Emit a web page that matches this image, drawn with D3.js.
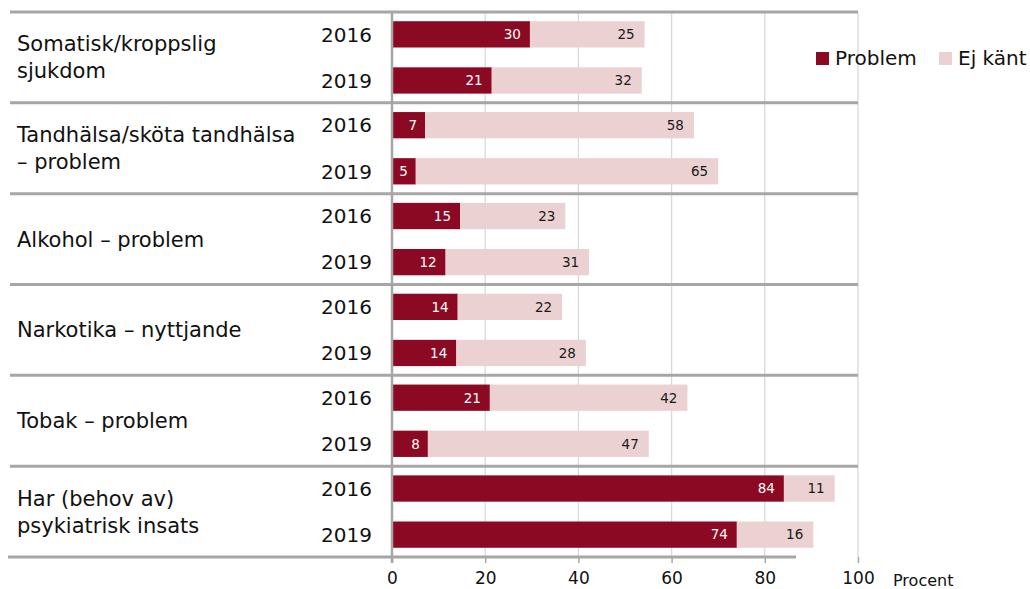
<!DOCTYPE html>
<html><head><meta charset="utf-8">
<script src="https://cdn.jsdelivr.net/npm/d3@7"></script>
<style>body{margin:0;background:#fff}svg{display:block}text{font-family:"DejaVu Sans",Verdana,sans-serif}</style>
</head><body><svg id="c" width="1030" height="589"></svg>
<script>
const categories = [["Somatisk/kroppslig","sjukdom"],["Tandhälsa/sköta tandhälsa","– problem"],["Alkohol – problem"],["Narkotika – nyttjande"],["Tobak – problem"],["Har (behov av)","psykiatrisk insats"]];
const years = ["2016","2019"];
const problem = [[29.6,21.4],[7.1,5.1],[14.6,11.5],[14.1,13.8],[21.0,7.7],[84.1,74.0]];
const ejKant = [[24.6,32.2],[57.7,64.9],[22.6,30.8],[22.4,27.8],[42.4,47.4],[10.9,16.4]];
const ticks = [0,20,40,60,80,100];
const seriesNames = ["Problem","Ej känt"];

(function(){
const svg = d3.select("#c");
const yTop = 12, yBot = 557;
const fmt = d3.format(".0f");
const x = d3.scaleLinear().domain([0,100]).range([392,858]);
const yG = d3.scaleBand().domain(d3.range(categories.length)).range([yTop,yBot]);
const yY = d3.scaleBand().domain(years).range([0,yG.bandwidth()]).paddingInner(0.43).paddingOuter(0.2);
const red = "#8c0923", pink = "#ebd1d2", grey = "#a6a6a6";

svg.append("g").selectAll("line").data(ticks.slice(1)).join("line")
  .attr("x1",d=>x(d)).attr("x2",d=>x(d)).attr("y1",yTop).attr("y2",yBot)
  .attr("stroke","#d9d9d9").attr("stroke-width",1.3);

const rows = [];
categories.forEach((c,i)=>years.forEach((yr,j)=>rows.push({i,yr,p:problem[i][j],e:ejKant[i][j]})));
const g = svg.append("g");
rows.forEach(r=>{
  const y0 = yG(r.i)+yY(r.yr), h = yY.bandwidth();
  g.append("rect").attr("x",x(0)).attr("y",y0).attr("width",x(r.p)-x(0)).attr("height",h).attr("fill",red);
  g.append("rect").attr("x",x(r.p)).attr("y",y0).attr("width",x(r.p+r.e)-x(r.p)).attr("height",h).attr("fill",pink);
  g.append("text").attr("x",x(r.p)-(r.p<10?8:9)).attr("y",y0+h/2).attr("dy","0.36em").attr("text-anchor","end")
    .attr("font-size",13.5).attr("fill","#fff").text(fmt(r.p));
  g.append("text").attr("x",x(r.p+r.e)-10).attr("y",y0+h/2).attr("dy","0.36em").attr("text-anchor","end")
    .attr("font-size",13.5).attr("fill","#1a1a1a").text(fmt(r.e));
  svg.append("text").attr("x",372).attr("y",y0+h/2).attr("dy","0.36em").attr("text-anchor","end")
    .attr("font-size",20).attr("fill","#111").text(r.yr);
});

d3.range(categories.length+1).forEach(k=>{
  const yy = k<categories.length ? yG(k) : yBot;
  const x2 = k===categories.length ? 796 : 858;
  svg.append("line").attr("x1",k===categories.length?8:10).attr("x2",x2).attr("y1",yy).attr("y2",yy)
    .attr("stroke",grey).attr("stroke-width",3);
});

categories.forEach((c,i)=>{
  const cy = yG(i)+yG.bandwidth()/2;
  const t = svg.append("text").attr("x",17).attr("font-size",21).attr("fill","#111");
  c.forEach((line,k)=>{
    t.append("tspan").attr("x",17).attr("y",cy+(k-(c.length-1)/2)*27).attr("dy","0.36em").text(line);
  });
});

const ax = svg.append("g").attr("transform",`translate(0,${yBot})`)
  .call(d3.axisBottom(x).tickValues(ticks).tickSize(6).tickPadding(9).tickFormat(d3.format("d")));
ax.select(".domain").remove();
ax.selectAll(".tick line").attr("stroke",grey).attr("stroke-width",1.5);
ax.selectAll(".tick text").attr("font-size",17).attr("fill","#111").attr("font-family","DejaVu Sans, Verdana, sans-serif");
svg.append("line").attr("x1",x(0)).attr("x2",x(0)).attr("y1",yTop).attr("y2",yBot+6).attr("stroke",grey).attr("stroke-width",2.5);
svg.append("text").attr("x",893).attr("y",580).attr("dy","0.36em").attr("font-size",16).attr("fill","#111").text("Procent");

const leg = svg.append("g");
const lx = [816,939];
seriesNames.forEach((n,k)=>{
  leg.append("rect").attr("x",lx[k]).attr("y",52).attr("width",13).attr("height",13).attr("fill",k?pink:red);
  leg.append("text").attr("x",lx[k]+19).attr("y",58).attr("dy","0.36em").attr("font-size",20).attr("fill","#111").text(n);
});
})();
</script></body></html>
